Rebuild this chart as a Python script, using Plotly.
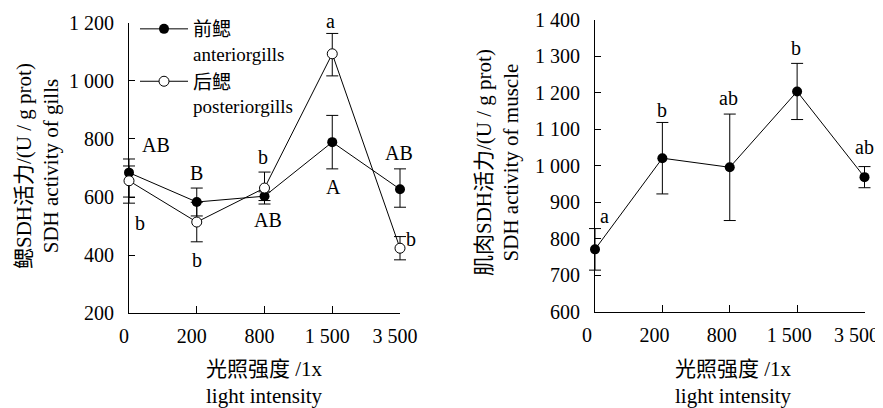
import plotly.graph_objects as go

# ---------------- data ----------------
light = ["0", "200", "800", "1 500", "3 500"]

gill_anterior = [684, 583, 603, 789, 627]
gill_anterior_err_up = [47, 48, 15, 92, 70]
gill_anterior_err_dn = [84, 48, 15, 92, 62]

gill_posterior = [656, 514, 631, 1093, 424]
gill_posterior_err_up = [51, 68, 55, 70, 40]
gill_posterior_err_dn = [77, 68, 55, 76, 40]

muscle = [771, 1021, 996, 1204, 969]
muscle_err = [57, 98, 146, 77, 29]

gill_yticks = [200, 400, 600, 800, 1000, 1200]
muscle_yticks = [600, 700, 800, 900, 1000, 1100, 1200, 1300, 1400]

# significance letters: (series, category index, text, dx px, dy px)
gill_letters = [
    ("ant", 0, "AB", 27, 28), ("post", 0, "b", 11, -42),
    ("ant", 1, "B", 0, 29), ("post", 1, "b", 0, -38),
    ("post", 2, "b", -2, 31), ("ant", 2, "AB", 3, -24),
    ("post", 3, "a", -2, 33), ("ant", 3, "A", 1, -45),
    ("ant", 4, "AB", -1, 36), ("post", 4, "b", 11, 9),
]
muscle_letters = [
    (0, "a", 9, 33), (1, "b", 0, 48), (2, "ab", -1, 69), (3, "b", -1, 43), (4, "ab", 0, 30),
]

FONT = "Liberation Serif, Noto Sans CJK SC, serif"
BODY = 8                      # default page body margin
W, H = 883 - BODY, 408 - BODY


def px(x):
    return min(1.0, max(0.0, (x - BODY) / W))


def py(y):
    return 1 - (y - BODY) / H


# plot areas in window pixels (left, right, top, bottom)
L1 = (129, 400, 22.7, 313.3)
L2 = (595, 864.5, 20, 311.7)
PAD = 8  # extra room so end-point error bars are not clipped

fig = go.Figure()
line_style = dict(color="black", width=1)


def err(up, dn):
    return dict(type="data", symmetric=False, array=up, arrayminus=dn,
                color="black", thickness=1, width=6)


fig.add_trace(go.Scatter(
    x=light, y=gill_anterior, mode="lines+markers", name="前鳃<br>anteriorgills",
    line=line_style, marker=dict(symbol="circle", size=10, color="black"),
    error_y=err(gill_anterior_err_up, gill_anterior_err_dn),
    cliponaxis=False, xaxis="x3", yaxis="y"))
fig.add_trace(go.Scatter(
    x=light, y=gill_posterior, mode="lines+markers", name="后鳃<br>posteriorgills",
    line=line_style,
    marker=dict(symbol="circle", size=10, color="white", line=dict(color="black", width=1)),
    error_y=err(gill_posterior_err_up, gill_posterior_err_dn),
    cliponaxis=False, xaxis="x3", yaxis="y"))
fig.add_trace(go.Scatter(
    x=light, y=muscle, mode="lines+markers", showlegend=False,
    line=line_style, marker=dict(symbol="circle", size=10, color="black"),
    error_y=err(muscle_err, muscle_err),
    cliponaxis=False, xaxis="x4", yaxis="y2"))

annotations = []
series = {"ant": gill_anterior, "post": gill_posterior}
letter_font = dict(family=FONT, size=20, color="black")
for s, i, t, dx, dy in gill_letters:
    annotations.append(dict(x=i, y=series[s][i], xref="x", yref="y", text=t,
                            showarrow=False, xshift=dx, yshift=dy, font=letter_font))
for i, t, dx, dy in muscle_letters:
    annotations.append(dict(x=i, y=muscle[i], xref="x2", yref="y2", text=t,
                            showarrow=False, xshift=dx, yshift=dy, font=letter_font))

# axis titles
title_font = dict(family=FONT, size=21, color="black")
annotations += [
    dict(x=px(37), y=py(166), xref="paper", yref="paper", textangle=-90,
         text="鳃SDH活力/(U / g prot)<br>SDH activity of gills", showarrow=False,
         xanchor="center", yanchor="middle", font=title_font),
    dict(x=px(498), y=py(163), xref="paper", yref="paper", textangle=-90,
         text="肌肉SDH活力/(U / g prot)<br>SDH activity of muscle", showarrow=False,
         xanchor="center", yanchor="middle", font=title_font),
    dict(x=px(264.5), y=py(382.5), xref="paper", yref="paper",
         text="光照强度 /1x<br>light intensity", showarrow=False,
         xanchor="center", yanchor="middle", font=title_font),
    dict(x=px(733), y=py(382.5), xref="paper", yref="paper",
         text="光照强度 /1x<br>light intensity", showarrow=False,
         xanchor="center", yanchor="middle", font=title_font),
]

tickfont = dict(family=FONT, size=20, color="black")
xcommon = dict(type="linear", range=[0, 4], tickvals=list(range(len(light))), ticktext=light,
               showline=True, linecolor="black", linewidth=1,
               ticks="inside", ticklen=7, tickcolor="black", tickwidth=1,
               showgrid=False, zeroline=False, tickfont=tickfont, ticklabelstandoff=5,
               ticklabeloverflow="allow", automargin=False, fixedrange=True)
ycommon = dict(showline=True, linecolor="black", linewidth=1, ticks="inside", ticklen=6,
               tickcolor="black", tickwidth=1, showgrid=False, zeroline=False,
               tickfont=tickfont, separatethousands=True, tickformat=",d",
               ticklabelstandoff=10, ticklabeloverflow="allow", automargin=False,
               fixedrange=True)


def hidden_x(box, anchor):
    left, right, _, _ = box
    step = (right - left) / (len(light) - 1)
    d = PAD / step
    return dict(type="category", visible=False, anchor=anchor, automargin=False,
                domain=[px(left - PAD), px(right + PAD)],
                range=[-d, len(light) - 1 + d], fixedrange=True)


fig.update_layout(
    template="none",
    width=W, height=H, autosize=False,
    margin=dict(l=0, r=0, t=0, b=0, pad=0, autoexpand=False),
    paper_bgcolor="white", plot_bgcolor="rgba(0,0,0,0)",
    separators=". ",
    font=dict(family=FONT, color="black"),
    xaxis=dict(domain=[px(L1[0]), px(L1[1])], anchor="y", ticklabelshift=-5, **xcommon),
    yaxis=dict(domain=[py(L1[3]), py(L1[2])], anchor="x", range=[200, 1200],
               tickvals=gill_yticks, **ycommon),
    xaxis2=dict(domain=[px(L2[0]), px(L2[1])], anchor="y2", ticklabelshift=-8, **xcommon),
    yaxis2=dict(domain=[py(L2[3]), py(L2[2])], anchor="x2", range=[600, 1400],
                tickvals=muscle_yticks, **ycommon),
    xaxis3=hidden_x(L1, "y"),
    xaxis4=hidden_x(L2, "y2"),
    legend=dict(x=px(135), y=py(10), xanchor="left", yanchor="top",
                bgcolor="rgba(0,0,0,0)", borderwidth=0, valign="top", itemwidth=48,
                font=dict(family=FONT, size=19, color="black"), tracegroupgap=0),
    annotations=annotations,
    showlegend=True,
)

fig.write_html("out.html")
